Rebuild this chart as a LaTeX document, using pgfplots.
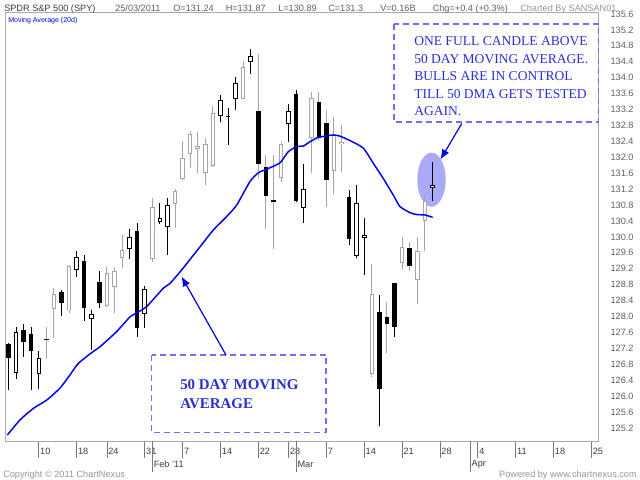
\documentclass[border=0pt]{standalone}
\usepackage{fontspec}
\setmainfont{Liberation Sans}
\newfontfamily\timesfont{Liberation Serif}
\usepackage{pgfplots}
\usepackage{pgfplotstable}
\pgfplotsset{compat=1.18}
\usetikzlibrary{arrows.meta}

\definecolor{framegray}{RGB}{170,170,170}
\definecolor{wickgray}{RGB}{165,165,165}
\definecolor{tickgray}{RGB}{120,120,120}
\definecolor{txtgray}{RGB}{95,95,95}
\definecolor{txtdark}{RGB}{60,60,60}
\definecolor{lightgray2}{RGB}{150,150,150}
\definecolor{annblue}{RGB}{45,45,215}
\definecolor{dashblue}{RGB}{110,110,255}
\definecolor{mablue}{RGB}{0,0,235}
\definecolor{ellfill}{RGB}{170,170,248}

% candles: i = trading day index (0 = 4 Jan 2011), o h l c
\pgfplotstableread{
i o h l c
0 127.31 127.34 126.15 126.96
2 127.66 127.81 126.99 127.37
3 127.55 127.74 126.15 127.12
7 128.62 128.67 128.02 128.35
10 129.39 129.54 127.89 128.22
12 128.87 129.15 128.21 128.35
17 130.15 130.36 127.49 127.70
29 133.04 133.23 132.31 133.01
38 133.58 133.69 130.88 130.91
45 131.00 131.18 129.80 129.94
49 128.12 128.54 125.25 126.17
51 128.83 128.85 127.49 127.74
}\downB
\pgfplotstableread{
i o h l c
5 127.44 127.73 126.92 127.40
33 133.15 134.60 131.47 131.82
34 131.76 132.06 130.19 131.03
35 130.92 132.06 129.69 130.88
41 133.38 133.65 132.43 132.48
42 132.87 133.19 130.74 131.43
50 127.99 128.37 127.09 127.81
53 129.73 129.88 129.15 129.28
}\downG
\pgfplotstableread{
i o h l c
1 126.57 127.74 126.43 127.62
4 126.55 127.14 126.17 126.96
9 129.17 129.65 129.00 129.50
11 127.94 128.15 127.16 128.07
16 129.69 130.19 129.44 129.99
18 128.06 128.77 127.70 128.68
20 130.37 130.84 130.32 130.48
21 130.26 130.98 129.54 130.80
28 133.04 133.56 132.89 133.43
30 133.46 134.02 133.19 133.86
32 134.39 134.72 134.09 134.54
37 132.83 133.34 132.38 133.16
39 130.73 131.82 130.34 131.20
46 129.51 131.31 129.48 130.84
47 129.98 130.47 129.04 130.04
56 131.24 131.87 130.89 131.30
}\upB
\pgfplotstableread{
i o h l c
6 128.18 128.72 127.45 128.56
8 128.15 129.30 128.08 129.28
13 128.26 129.24 128.25 129.09
14 128.75 129.25 128.08 129.15
15 129.46 130.05 129.21 129.67
19 129.44 130.97 129.38 130.74
22 130.83 131.20 130.22 131.15
23 131.45 132.41 131.43 131.97
24 132.08 132.67 131.72 132.58
25 132.21 132.64 131.60 132.28
26 131.60 132.48 131.30 132.33
27 131.79 133.30 131.76 133.11
31 133.46 134.43 133.46 134.26
36 131.49 132.39 131.39 132.33
40 132.48 133.65 131.60 133.48
43 131.65 133.00 131.07 132.57
44 132.33 132.81 131.62 132.39
48 126.55 129.32 126.49 128.56
52 129.34 129.99 129.19 129.74
54 128.92 130.00 128.31 129.65
55 130.40 131.08 129.65 130.90
}\upG

\pgfplotsset{
  candlebar/.style 2 args={draw=none, mark=none, forget plot,
    error bars/.cd, y dir=plus, y explicit, error mark=none,
    error bar style={draw=#1, line width=#2, line cap=butt, solid}},
}
% pixel frame: (px,py) of the 640x480 picture, origin at the axis' lower-left corner (5,441)
\tikzset{px/.style={x=0.75bp, y=-0.75bp, shift={(-5,-441)}}}

\begin{document}
\begin{tikzpicture}
\begin{scope}[px]
\useasboundingbox (0,0) rectangle (640,480);
% highlight ellipse (under the candles)
\fill[ellfill] (431.5,179.7) ellipse [x radius=14.2, y radius=27];
\end{scope}

\begin{axis}[
  scale only axis, width=445.1bp, height=321bp,
  xmin=-0.462, xmax=77.94, ymin=124.871, ymax=135.625,
  axis line style={draw=framegray, line width=0.75bp},
  /pgf/number format/assume math mode=true,
  xtick={4,9,13,18,23,28,33,37,42,47,52,57,62,67,72,77},
  xticklabels={10,18,24,31,7,14,22,28,7,14,21,28,4,11,18,25},
  xtick pos=left,
  tick align=outside,
  major tick length=12.75bp,
  x tick style={draw=tickgray, line width=0.6bp},
  x tick label style={font=\fontsize{6.9}{8}\selectfont, text=txtdark,
    anchor=west, xshift=0.4bp, yshift=5.25bp, inner sep=0.5bp},
  extra x ticks={19,38,61},
  extra x tick labels={Feb '11,Mar,Apr},
  extra x tick style={major tick length=23.25bp,
    tick label style={yshift=0.75bp}},
  ytick distance=0.4,
  ytick pos=right,
  yticklabel pos=right,
  y tick style={draw=none},
  y tick label style={font=\fontsize{6.9}{8}\selectfont, text=txtgray,
    anchor=west, xshift=-7.2bp},
  yticklabel={\pgfmathprintnumber[fixed,fixed zerofill,precision=1]{\tick}},
  clip=true,
]
% wicks
\addplot[candlebar={black}{0.75bp}] table[x=i, y=l, y error expr=\thisrow{h}-\thisrow{l}] {\downB};
\addplot[candlebar={wickgray}{0.75bp}] table[x=i, y=l, y error expr=\thisrow{h}-\thisrow{l}] {\downG};
\addplot[candlebar={black}{0.75bp}] table[x=i, y=l, y error expr=\thisrow{h}-\thisrow{l}] {\upB};
\addplot[candlebar={wickgray}{0.75bp}] table[x=i, y=l, y error expr=\thisrow{h}-\thisrow{l}] {\upG};
% black bodies
\addplot[candlebar={black}{3.4bp}] table[x=i, y=c, y error expr=\thisrow{o}-\thisrow{c}] {\downB};
\addplot[candlebar={black}{3.4bp}] table[x=i, y=c, y error expr=\thisrow{o}-\thisrow{c}] {\downG};
% white bodies: outline then white inside
\addplot[candlebar={black}{3.4bp}] table[x=i, y=o, y error expr=\thisrow{c}-\thisrow{o}] {\upB};
\addplot[candlebar={wickgray}{3.4bp}] table[x=i, y=o, y error expr=\thisrow{c}-\thisrow{o}] {\upG};
\addplot[candlebar={white}{1.9bp}] table[x=i, y expr=\thisrow{o}+0.025, y error expr=\thisrow{c}-\thisrow{o}-0.05] {\upB};
\addplot[candlebar={white}{1.9bp}] table[x=i, y expr=\thisrow{o}+0.025, y error expr=\thisrow{c}-\thisrow{o}-0.05] {\upG};
% moving average
\addplot[mablue, line width=1.1bp, mark=none, smooth, tension=0.35, forget plot] coordinates {
(-0.16,125.02) (1.52,125.40) (3.28,125.69) (5.05,125.90) (6.80,126.20)
(8.12,126.53) (9.22,126.82) (10.99,127.09) (12.09,127.24) (14.29,127.62)
(16.05,127.99) (16.94,128.09) (18.26,128.25) (20.45,128.71) (21.33,128.83)
(22.88,129.17) (25.30,129.75) (27.05,130.17) (28.82,130.51) (30.15,130.80)
(31.90,131.39) (33.00,131.61) (34.11,131.70) (35.86,131.86) (36.96,132.14)
(38.07,132.27) (38.94,132.28) (39.83,132.39) (40.92,132.50) (42.91,132.56)
(43.79,132.53) (45.11,132.42) (46.87,132.23) (48.19,131.85) (49.51,131.47)
(50.83,131.05) (51.72,130.76) (53.04,130.61) (53.92,130.56) (55.02,130.55)
(56.04,130.49)
};
\end{axis}

\begin{scope}[px]
% header
\begin{scope}[every node/.style={anchor=base west, inner sep=0pt, font=\fontsize{6.9}{8}\selectfont, text=txtgray}]
\node[text=txtdark] at (4,11.3) {SPDR S\&P 500 (SPY)};
\node at (115,11.3) {25/03/2011};
\node at (173,11.3) {O=131.24};
\node at (225.5,11.3) {H=131.87};
\node at (278,11.3) {L=130.89};
\node at (328,11.3) {C=131.3};
\node at (380,11.3) {V=0.16B};
\node at (432.5,11.3) {Chg=+0.4 (+0.3\%)};
\node[text=lightgray2] at (520,11.3) {Charted By SANSAN01};
\node[text=mablue, font=\fontsize{5.3}{6}\selectfont] at (8,23) {Moving Average (20d)};
\node[text=lightgray2] at (3,477) {Copyright \textcopyright{} 2011 ChartNexus};
\node[text=lightgray2, anchor=base east] at (637,477) {Powered by www.chartnexus.com};
\end{scope}

% annotation boxes
\draw[dashblue, line width=0.9bp, dash pattern=on 4.5bp off 3bp] (394,24) rectangle (598.5,122);
\draw[dashblue, line width=0.9bp, dash pattern=on 4.5bp off 3bp] (151.5,355) rectangle (326,432.5);
\begin{scope}[every node/.style={anchor=base west, inner sep=0pt, text=annblue, font=\timesfont\fontsize{10.2}{12}\selectfont}]
\node at (414,46) {ONE FULL CANDLE ABOVE};
\node at (414,63.6) {50 DAY MOVING AVERAGE.};
\node at (414,81) {BULLS ARE IN CONTROL};
\node at (414,98.4) {TILL 50 DMA GETS TESTED};
\node at (414,116) {AGAIN.};
\node[font=\timesfont\bfseries\fontsize{11.25}{13}\selectfont] at (180,389) {50 DAY MOVING};
\node[font=\timesfont\bfseries\fontsize{11.25}{13}\selectfont] at (180,408.5) {AVERAGE};
\end{scope}
% arrows
\draw[mablue, line width=0.9bp, -{Latex[length=7.5bp, width=6bp]}] (461.7,123.5) -- (440.5,159.5);
\draw[mablue, line width=0.9bp, -{Latex[length=7.5bp, width=6bp]}] (226,355) -- (181.5,276.5);
\end{scope}
\end{tikzpicture}
\end{document}
